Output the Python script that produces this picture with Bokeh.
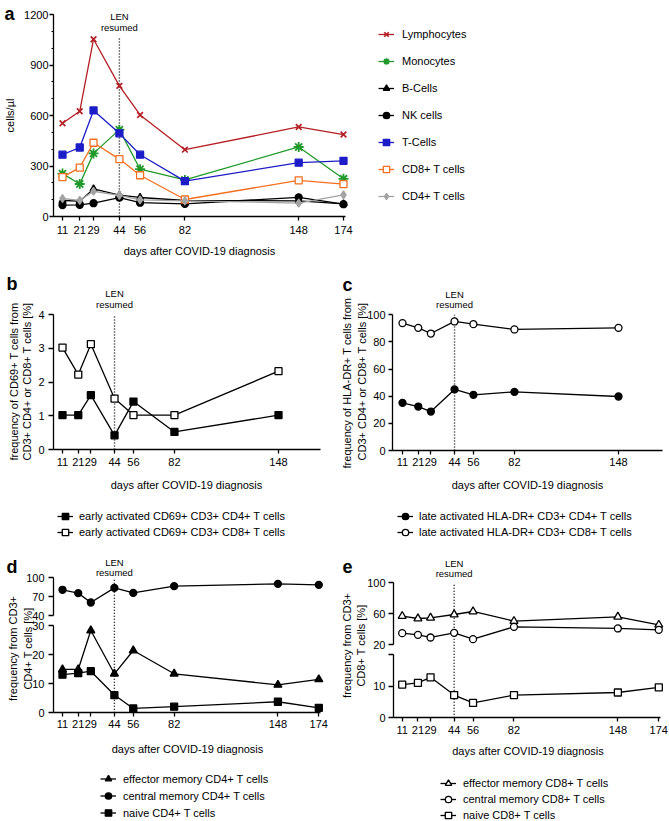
import math
from bokeh.plotting import figure
from bokeh.models import (Range1d, LinearAxis, FixedTicker, SingleIntervalTicker,
                          Label, Legend, LegendItem, Grid)
from bokeh.layouts import column, row
from bokeh.embed import file_html
from bokeh.resources import INLINE

FONT = "Liberation Sans"

# ---------------- data ----------------
days = [11, 21, 29, 44, 56, 82, 148, 174]
days_bc = [11, 21, 29, 44, 56, 82, 148]
len_day = 44

# panel a (cells/µl)
lymphocytes = [554, 625, 1053, 776, 603, 397, 532, 487]
monocytes = [255, 193, 375, 516, 281, 217, 413, 224]
b_cells = [95, 91, 164, 127, 113, 95, 93, 75]
nk_cells = [68, 69, 79, 112, 82, 75, 114, 73]
t_cells = [367, 410, 630, 494, 367, 210, 320, 331]
cd8_t = [234, 290, 438, 341, 245, 101, 215, 192]
cd4_t = [107, 96, 150, 126, 99, 93, 80, 129]

# panel b (CD69+ %)
cd69_cd4 = [1.02, 1.02, 1.61, 0.42, 1.42, 0.52, 1.02]
cd69_cd8 = [3.02, 2.22, 3.12, 1.51, 1.02, 1.02, 2.32]

# panel c (HLA-DR+ %)
hladr_cd4 = [35.1, 32.4, 28.7, 45.0, 41.0, 43.2, 39.8]
hladr_cd8 = [93.9, 90.4, 86.2, 95.1, 93.1, 89.2, 90.4]

# panel d (CD4+ subsets %)
em_cd4 = [14.9, 14.9, 28.3, 13.4, 21.4, 13.4, 9.6, 11.5]
cm_cd4 = [80.9, 75.6, 60.7, 84.0, 76.0, 86.7, 90.4, 88.8]
naive_cd4 = [13.1, 13.6, 14.3, 6.1, 1.5, 2.1, 3.8, 1.7]

# panel e (CD8+ subsets %)
em_cd8 = [56.8, 53.7, 54.6, 58.9, 62.8, 50.3, 55.9, 45.5]
cm_cd8 = [34.7, 32.5, 29.1, 35.1, 26.9, 42.9, 40.8, 39.0]
naive_cd8 = [10.5, 11.05, 12.8, 7.2, 4.7, 7.2, 8.0, 9.6]

# tick definitions
yticks_c = [0, 20, 40, 60, 80, 100]
yticks_b = [0, 1, 2, 3, 4]
yticks_d_top = [40, 70, 100]
yticks_d_bot = [0, 10, 20, 30]
yticks_e_top = [20, 60, 100]
yticks_e_bot = [0, 10, 20]

XLABEL = "days after COVID-19 diagnosis"


# ---------------- helpers ----------------
class Panel:
    """A figure whose frame covers the whole canvas; page-pixel <-> data helpers."""

    def __init__(self, ox, oy, w, h, xmap, ymap):
        self.ox, self.oy, self.w, self.h = ox, oy, w, h
        xp1, xv1, xp2, xv2 = xmap
        self.kx = (xv2 - xv1) / (xp2 - xp1)
        self.xp1, self.xv1 = xp1, xv1
        x0 = self.X(ox)
        x1 = self.X(ox + w)
        y_rng = self.range_for(ymap)
        self.p = figure(width=w, height=h, x_range=Range1d(x0, x1), y_range=y_rng,
                        output_backend="svg", toolbar_location=None,
                        x_axis_location=None, y_axis_location=None,
                        min_border_left=0, min_border_right=0,
                        min_border_top=0, min_border_bottom=0)
        p = self.p
        p.outline_line_color = None
        p.background_fill_color = "white"
        p.border_fill_color = "white"
        for g in list(p.center):
            if isinstance(g, Grid):
                g.visible = False

    def X(self, px):
        return self.xv1 + (px - self.xp1) * self.kx

    def range_for(self, ymap):
        yp1, yv1, yp2, yv2 = ymap
        k = (yv2 - yv1) / (yp2 - yp1)
        return Range1d(yv1 + (self.oy + self.h - yp1) * k, yv1 + (self.oy - yp1) * k)

    def sx(self, px):
        return px - self.ox

    def sy(self, py):
        return self.oy + self.h - py


def style_axis(ax, tick_out, standoff):
    ax.axis_line_width = 1.3
    ax.axis_line_color = "black"
    ax.major_tick_line_width = 1.3
    ax.major_tick_line_color = "black"
    ax.minor_tick_line_width = 1.0
    ax.minor_tick_line_color = "black"
    ax.major_tick_out = tick_out
    ax.major_tick_in = 0
    ax.minor_tick_out = 2
    ax.minor_tick_in = 0
    ax.major_label_standoff = standoff
    ax.major_label_text_font = FONT
    ax.major_label_text_font_size = "11px"
    ax.major_label_text_color = "black"


def add_xaxis(P, ticks, axis_px_left, axis_px_right, standoff, label_px):
    ax = LinearAxis(ticker=FixedTicker(ticks=ticks, minor_ticks=[]),
                    bounds=(P.X(axis_px_left), P.X(axis_px_right)), fixed_location=0)
    style_axis(ax, 4, standoff)
    P.p.add_layout(ax, "below")
    add_text(P, XLABEL, label_px[0], label_px[1])


def add_yaxis(P, ticker, bounds, axis_px, tick_out, standoff, y_range_name="default", overrides=None):
    ax = LinearAxis(ticker=ticker, bounds=bounds, fixed_location=P.X(axis_px),
                    y_range_name=y_range_name)
    style_axis(ax, tick_out, standoff)
    if overrides:
        ax.major_label_overrides = overrides
    P.p.add_layout(ax, "left")


def add_text(P, text, px, py, size="11px", angle=0.0, style="normal", align="center",
             baseline="middle"):
    P.p.add_layout(Label(x=P.sx(px), y=P.sy(py), x_units="screen", y_units="screen",
                         text=text, angle=angle, text_font=FONT, text_font_size=size,
                         text_font_style=style, text_align=align, text_baseline=baseline,
                         text_color="black"))


def add_letter(P, text, px, py_base):
    add_text(P, text, px, py_base, size="18px", style="bold", align="left",
             baseline="alphabetic")


def add_ylabel(P, lines, pxs, py):
    for t, px in zip(lines, pxs):
        add_text(P, t, px, py, angle=math.pi / 2)


def add_len(P, py_len, py_res, y0, y1):
    P.p.segment(x0=[len_day], y0=[y0], x1=[len_day], y1=[y1], line_color="black",
                line_width=1.4, line_dash="1 2")
    for t, py in (("LEN", py_len), ("resumed", py_res)):
        P.p.add_layout(Label(x=len_day, y=P.sy(py), x_units="data", y_units="screen",
                             text=t, text_font=FONT, text_font_size="9.5px",
                             text_align="center", text_baseline="middle",
                             text_color="black"))


def series(p, x, y, marker, color, size, fill=None, lw=1.3, mlw=1.3, y_range_name="default"):
    r1 = p.line(x, y, line_color=color, line_width=lw, y_range_name=y_range_name)
    r2 = p.scatter(x, y, marker=marker, size=size, line_color=color,
                   fill_color=(color if fill is None else fill), line_width=mlw,
                   y_range_name=y_range_name)
    return [r1, r2]


def add_legend(P, items, px_left, py_bottom, h, spacing, standoff):
    leg = Legend(items=[LegendItem(label=l, renderers=r) for l, r in items],
                 location=(P.sx(px_left), P.sy(py_bottom)), orientation="vertical",
                 margin=0, padding=0, spacing=spacing, glyph_width=16, glyph_height=h,
                 label_height=h, label_standoff=standoff, label_text_font=FONT,
                 label_text_font_size="11px", label_text_color="black",
                 border_line_color=None, background_fill_alpha=0)
    P.p.add_layout(leg)


# ---------------- panel a ----------------
A = Panel(0, 0, 669, 262, (62, 11, 343, 174), (216, 0, 14, 1200))
pa = A.p
add_yaxis(A, SingleIntervalTicker(interval=300, num_minor_ticks=3), (0, 1200), 53, 4, 1)
add_xaxis(A, days, 53, 345, 5, (199, 250))
add_len(A, 16, 26.7, 0, 1065)
ra = [
    ("Lymphocytes", series(pa, days, lymphocytes, "x", "#b41f24", 8, mlw=1.7)),
    ("Monocytes", series(pa, days, monocytes, "asterisk", "#1f9a2a", 10, mlw=1.8)),
    ("B-Cells", series(pa, days, b_cells, "triangle", "black", 7)),
    ("NK cells", series(pa, days, nk_cells, "circle", "black", 7)),
    ("T-Cells", series(pa, days, t_cells, "square", "#1c1cc8", 7)),
    ("CD8+ T cells", series(pa, days, cd8_t, "square", "#f46f1f", 7, fill="white")),
    ("CD4+ T cells", series(pa, days, cd4_t, "diamond", "#a3a3a3", 8)),
]
add_legend(A, ra, 378, 206, 20, 7, 8)
add_letter(A, "a", 4, 13)
add_ylabel(A, ["cells/µl"], [9.5], 115)

# ---------------- panel b ----------------
B = Panel(0, 262, 338, 278, (62, 11, 278, 148), (449, 0, 314, 4))
pb = B.p
add_yaxis(B, FixedTicker(ticks=yticks_b, minor_ticks=[]), (0, 4), 53, 5, 4)
add_xaxis(B, days_bc, 53, 320, 4, (186, 484.3))
add_len(B, 293, 304, 0, 4)
rb = [
    ("early activated CD69+ CD3+ CD4+ T cells", series(pb, days_bc, cd69_cd4, "square", "black", 7)),
    ("early activated CD69+ CD3+ CD8+ T cells", series(pb, days_bc, cd69_cd8, "square", "black", 7, fill="white")),
]
add_legend(B, rb, 57, 540, 16, 0, 6)
add_letter(B, "b", 6, 283)
add_ylabel(B, ["frequency of CD69+ T cells from", "CD3+ CD4+ or CD8+ T cells [%]"], [13, 26], 381)

# ---------------- panel c ----------------
C = Panel(338, 262, 331, 278, (402, 11, 618, 148), (450, 0, 314.3, 100))
pc = C.p
add_yaxis(C, FixedTicker(ticks=yticks_c, minor_ticks=[]), (0, 100), 392, 4, 3)
add_xaxis(C, days_bc, 392, 662, 3, (527, 484.3))
add_len(C, 294.3, 304.3, 0, 100)
rc = [
    ("late activated HLA-DR+ CD3+ CD4+ T cells", series(pc, days_bc, hladr_cd4, "circle", "black", 7)),
    ("late activated HLA-DR+ CD3+ CD8+ T cells", series(pc, days_bc, hladr_cd8, "circle", "black", 7, fill="white")),
]
add_legend(C, rc, 397, 540, 16, 0, 6)
add_letter(C, "c", 342, 284)
add_ylabel(C, ["frequency of  HLA-DR+ T cells from", "CD3+ CD4+ or CD8+ T cells [%]"], [346, 361], 381)


# ---------------- broken-axis panels ----------------
def top_to_bottom(v, top_rng, bot_rng):
    f = (v - top_rng.start) / (top_rng.end - top_rng.start)
    return bot_rng.start + f * (bot_rng.end - bot_rng.start)


# ---------------- panel d ----------------
D = Panel(0, 540, 338, 281, (62, 11, 318.3, 174), (712.3, 0, 625, 30))
pd_ = D.p
d_top = D.range_for((615, 40, 577.3, 100))
pd_.extra_y_ranges = {"top": d_top}
add_yaxis(D, FixedTicker(ticks=yticks_d_top, minor_ticks=[]), (40, 100), 53, 5, 4, "top")
add_yaxis(D, FixedTicker(ticks=yticks_d_bot, minor_ticks=[]), (0, 30), 53, 5, 4)
add_xaxis(D, days, 53, 320, 3, (187, 748.3))
add_len(D, 561.7, 572.3, 0, top_to_bottom(100, d_top, pd_.y_range))
rd = [
    ("effector memory CD4+ T cells", series(pd_, days, em_cd4, "triangle", "black", 8)),
    ("central memory CD4+ T cells", series(pd_, days, cm_cd4, "circle", "black", 7, y_range_name="top")),
    ("naive CD4+ T cells", series(pd_, days, naive_cd4, "square", "black", 7)),
]
add_legend(D, rd, 100, 821, 17, 0, 7)
add_letter(D, "d", 6, 566.7)
add_ylabel(D, ["frequency from CD3+", "CD4+ T cells [%]"], [12.5, 27], 648)

# ---------------- panel e ----------------
E = Panel(338, 540, 331, 281, (401.7, 11, 658.3, 174), (717.3, 0, 685.7, 10))
pe = E.p
e_top = E.range_for((644, 20, 582.3, 100))
pe.extra_y_ranges = {"top": e_top}
add_yaxis(E, FixedTicker(ticks=yticks_e_top, minor_ticks=[]), (20, 100), 393, 5, 3, "top")
add_yaxis(E, FixedTicker(ticks=yticks_e_bot, minor_ticks=[]), (0, 20), 393, 5, 3,
          overrides={20: ""})
add_xaxis(E, days, 393, 660, 4, (527.5, 750.7))
add_len(E, 562.7, 573.3, 0, top_to_bottom(100, e_top, pe.y_range))
re_ = [
    ("effector memory CD8+ T cells", series(pe, days, em_cd8, "triangle", "black", 8, fill="white", y_range_name="top")),
    ("central memory CD8+ T cells", series(pe, days, cm_cd8, "circle", "black", 7, fill="white", y_range_name="top")),
    ("naive CD8+ T cells", series(pe, days, naive_cd8, "square", "black", 7, fill="white")),
]
add_legend(E, re_, 440, 823, 16, 0, 7)
add_letter(E, "e", 342, 566)
add_ylabel(E, ["frequency from CD3+", "CD8+ T cells [%]"], [346, 360.5], 645)

layout = column(pa, row(pb, pc), row(pd_, pe))
open("out.html", "w").write(file_html(layout, INLINE))
